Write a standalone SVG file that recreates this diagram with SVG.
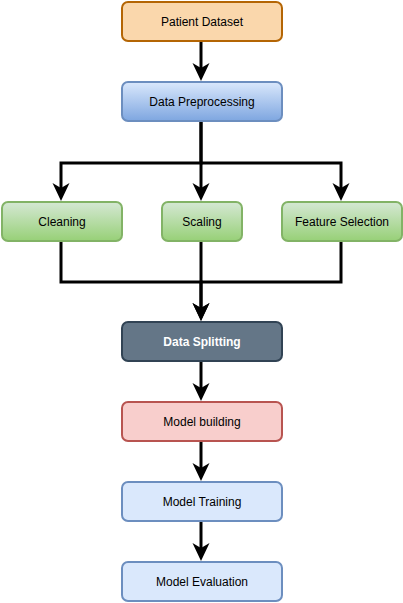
<svg xmlns="http://www.w3.org/2000/svg" width="403" height="603" viewBox="0 0 403 603">
<style>
.lbl{font-family:"Liberation Sans",Arial,Helvetica,sans-serif;font-size:12px;fill:#000;text-anchor:middle;dominant-baseline:central}
.wl{fill:#fff;font-weight:bold}
.box{stroke-width:2}
.c{fill:none;stroke:#000;stroke-width:3;stroke-linejoin:miter}
</style>
<defs>
<linearGradient id="gb" x1="0" y1="0" x2="0" y2="1"><stop offset="0" stop-color="#dae8fc"/><stop offset="1" stop-color="#7ea6e0"/></linearGradient>
<linearGradient id="gg" x1="0" y1="0" x2="0" y2="1"><stop offset="0" stop-color="#d5e8d4"/><stop offset="1" stop-color="#97d077"/></linearGradient>
<marker id="ah" markerUnits="userSpaceOnUse" markerWidth="20" markerHeight="20" refX="5" refY="8.5" orient="auto">
<path d="M0,0 L18,8.5 L0,17 L5,8.5 Z" fill="#000"/>
</marker>
</defs>
<g id="connectors">
<path class="c" d="M201,42 V68" marker-end="url(#ah)"/>
<path class="c" d="M201,122 V163 H61 V188" marker-end="url(#ah)"/>
<path class="c" d="M201,122 V188" marker-end="url(#ah)"/>
<path class="c" d="M201,163 H341 V188" marker-end="url(#ah)"/>
<path class="c" d="M61,242 V282 H201 V308" marker-end="url(#ah)"/>
<path class="c" d="M201,242 V308" marker-end="url(#ah)"/>
<path class="c" d="M341,242 V282 H201"/>
<path class="c" d="M201,362 V388" marker-end="url(#ah)"/>
<path class="c" d="M201,442 V468" marker-end="url(#ah)"/>
<path class="c" d="M201,522 V548" marker-end="url(#ah)"/>
</g>
<g id="patient-dataset">
<rect class="box" x="122" y="2" width="160" height="39" rx="6" fill="#fad7ac" stroke="#b46504"/>
<text class="lbl" x="202" y="21.5">Patient Dataset</text>
</g>
<g id="data-preprocessing">
<rect class="box" x="122" y="82" width="160" height="39" rx="6" fill="url(#gb)" stroke="#6c8ebf"/>
<text class="lbl" x="202" y="101.5">Data Preprocessing</text>
</g>
<g id="cleaning">
<rect class="box" x="2" y="202" width="120" height="39" rx="6" fill="url(#gg)" stroke="#82b366"/>
<text class="lbl" x="62" y="221.5">Cleaning</text>
</g>
<g id="scaling">
<rect class="box" x="162" y="202" width="80" height="39" rx="6" fill="url(#gg)" stroke="#82b366"/>
<text class="lbl" x="202" y="221.5">Scaling</text>
</g>
<g id="feature-selection">
<rect class="box" x="282" y="202" width="120" height="39" rx="6" fill="url(#gg)" stroke="#82b366"/>
<text class="lbl" x="342" y="221.5">Feature Selection</text>
</g>
<g id="data-splitting">
<rect class="box" x="122" y="322" width="160" height="39" rx="6" fill="#647687" stroke="#314354"/>
<text class="lbl wl" x="202" y="341.5">Data Splitting</text>
</g>
<g id="model-building">
<rect class="box" x="122" y="402" width="160" height="39" rx="6" fill="#f8cecc" stroke="#b85450"/>
<text class="lbl" x="202" y="421.5">Model building</text>
</g>
<g id="model-training">
<rect class="box" x="122" y="482" width="160" height="39" rx="6" fill="#dae8fc" stroke="#6c8ebf"/>
<text class="lbl" x="202" y="501.5">Model Training</text>
</g>
<g id="model-evaluation">
<rect class="box" x="122" y="562" width="160" height="39" rx="6" fill="#dae8fc" stroke="#6c8ebf"/>
<text class="lbl" x="202" y="581.5">Model Evaluation</text>
</g>
</svg>
